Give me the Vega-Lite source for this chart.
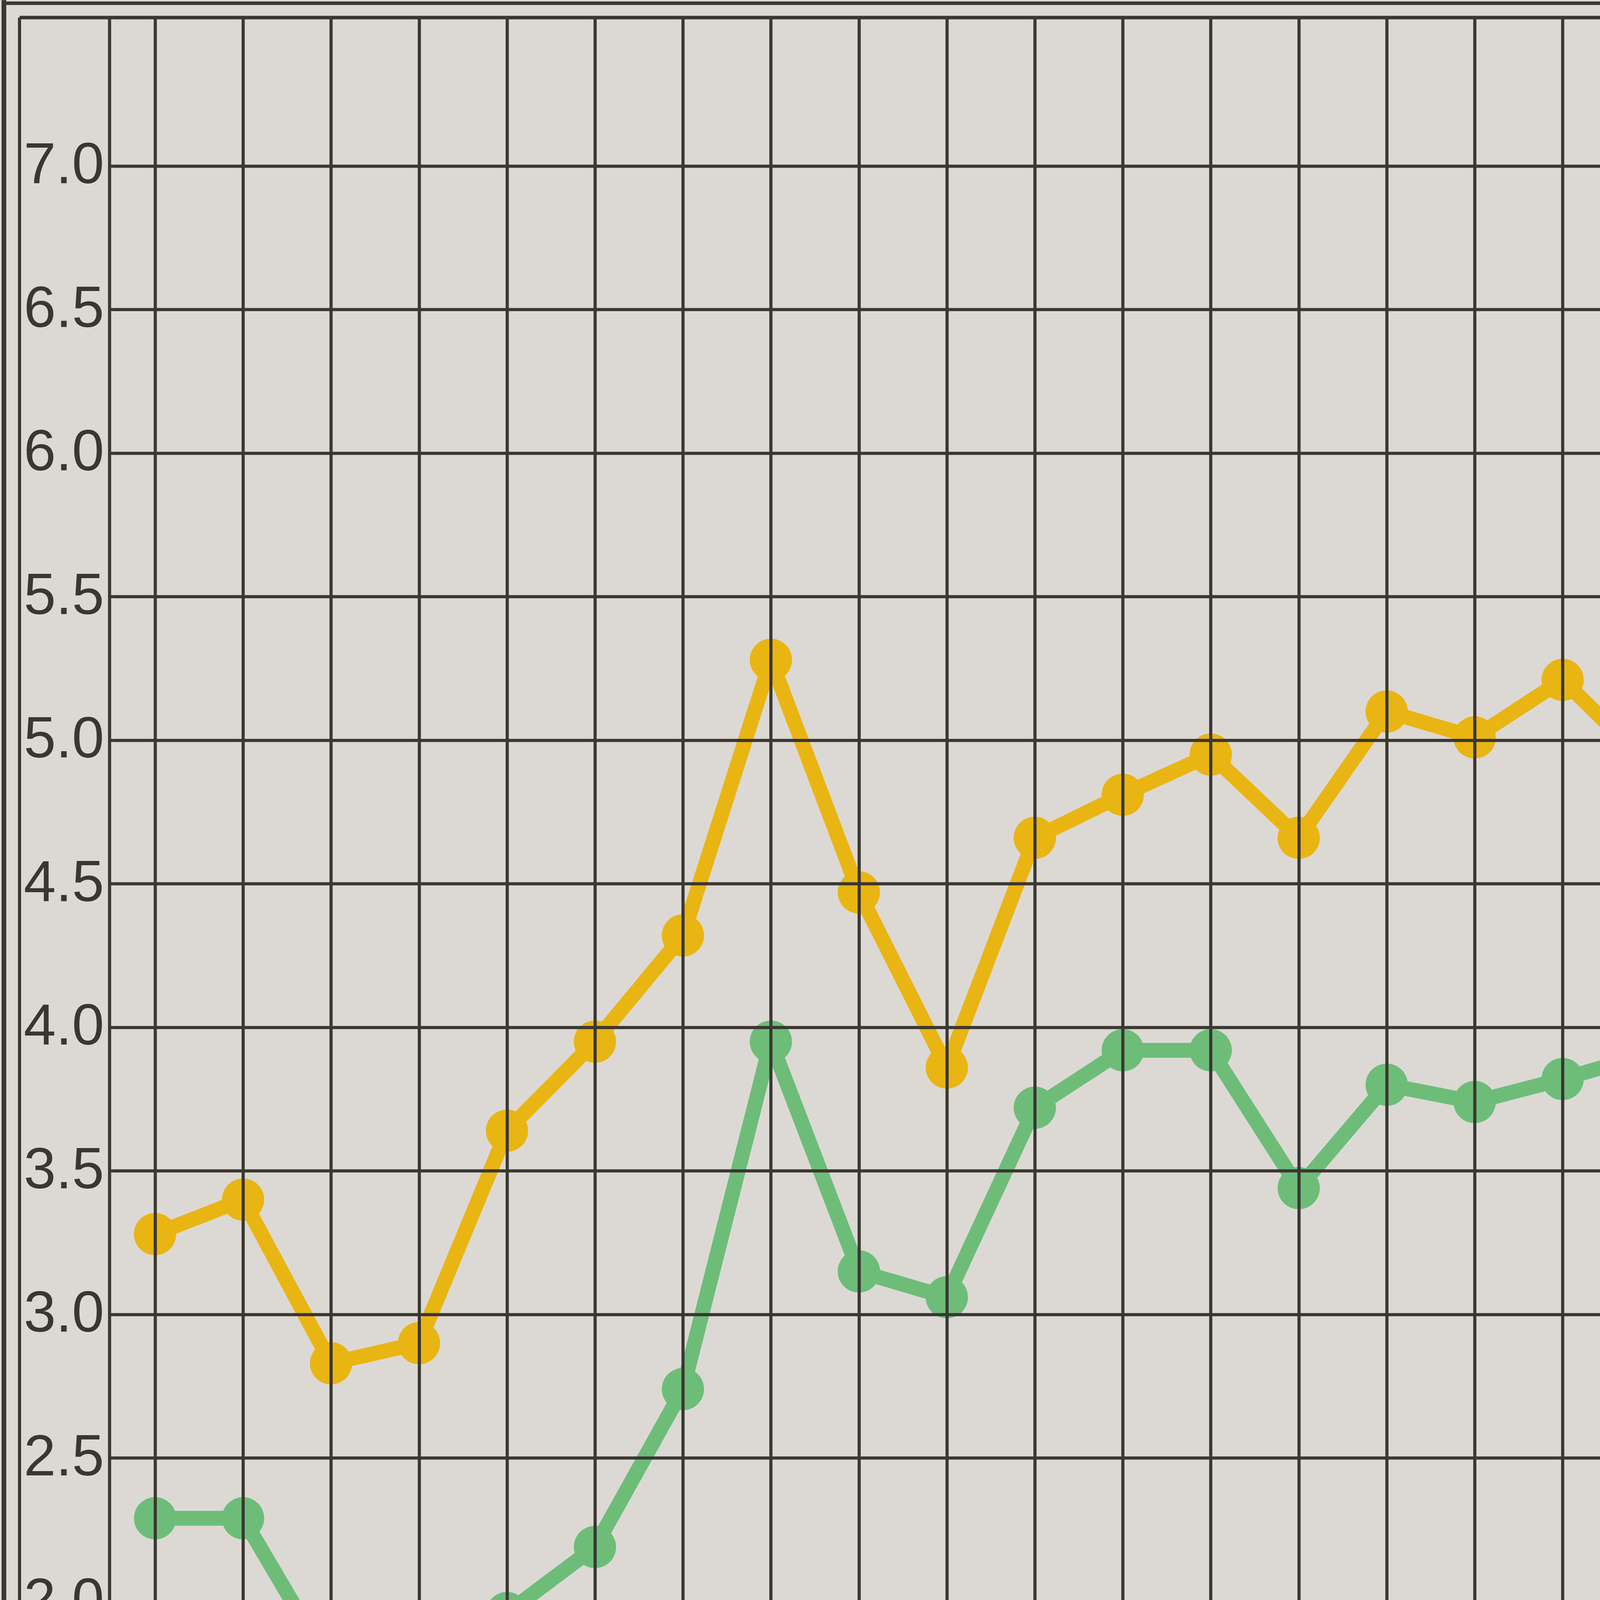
{
  "$schema": "https://vega.github.io/schema/vega-lite/v6.json",
  "autosize": "none",
  "width": 4309,
  "height": 5482,
  "padding": {"left": 280, "top": 45, "right": 0, "bottom": 0},
  "background": "#dcd9d4",
  "config": {"view": {"stroke": null}},
  "datasets": {
    "series": [
      {"t": 1, "series": "黄", "value": 3.28}, {"t": 2, "series": "黄", "value": 3.40}, {"t": 3, "series": "黄", "value": 2.83}, {"t": 4, "series": "黄", "value": 2.90}, {"t": 5, "series": "黄", "value": 3.64}, {"t": 6, "series": "黄", "value": 3.95}, {"t": 7, "series": "黄", "value": 4.32}, {"t": 8, "series": "黄", "value": 5.28}, {"t": 9, "series": "黄", "value": 4.47}, {"t": 10, "series": "黄", "value": 3.86}, {"t": 11, "series": "黄", "value": 4.66}, {"t": 12, "series": "黄", "value": 4.81}, {"t": 13, "series": "黄", "value": 4.95}, {"t": 14, "series": "黄", "value": 4.66}, {"t": 15, "series": "黄", "value": 5.10}, {"t": 16, "series": "黄", "value": 5.01}, {"t": 17, "series": "黄", "value": 5.21}, {"t": 18, "series": "黄", "value": 4.91}, {"t": 19, "series": "黄", "value": 4.24},
      {"t": 1, "series": "緑", "value": 2.29}, {"t": 2, "series": "緑", "value": 2.29}, {"t": 3, "series": "緑", "value": 1.77}, {"t": 4, "series": "緑", "value": 1.56}, {"t": 5, "series": "緑", "value": 1.96}, {"t": 6, "series": "緑", "value": 2.19}, {"t": 7, "series": "緑", "value": 2.74}, {"t": 8, "series": "緑", "value": 3.95}, {"t": 9, "series": "緑", "value": 3.15}, {"t": 10, "series": "緑", "value": 3.06}, {"t": 11, "series": "緑", "value": 3.72}, {"t": 12, "series": "緑", "value": 3.92}, {"t": 13, "series": "緑", "value": 3.92}, {"t": 14, "series": "緑", "value": 3.44}, {"t": 15, "series": "緑", "value": 3.80}, {"t": 16, "series": "緑", "value": 3.74}, {"t": 17, "series": "緑", "value": 3.82}, {"t": 18, "series": "緑", "value": 3.91}, {"t": 19, "series": "緑", "value": 3.26},
      {"t": 1, "series": "赤", "value": 0.99}, {"t": 2, "series": "赤", "value": 1.10}, {"t": 3, "series": "赤", "value": 1.08}, {"t": 4, "series": "赤", "value": 1.35}, {"t": 5, "series": "赤", "value": 1.71}, {"t": 6, "series": "赤", "value": 1.76}, {"t": 7, "series": "赤", "value": 1.58}, {"t": 8, "series": "赤", "value": 1.32}, {"t": 9, "series": "赤", "value": 1.33}, {"t": 10, "series": "赤", "value": 0.80}, {"t": 11, "series": "赤", "value": 0.91}, {"t": 12, "series": "赤", "value": 0.86}, {"t": 13, "series": "赤", "value": 0.98}, {"t": 14, "series": "赤", "value": 1.23}, {"t": 15, "series": "赤", "value": 1.28}, {"t": 16, "series": "赤", "value": 1.26}, {"t": 17, "series": "赤", "value": 1.36}, {"t": 18, "series": "赤", "value": 1.01}, {"t": 19, "series": "赤", "value": 0.96}
    ],
    "one": [{}]
  },
  "layer": [
    {
      "data": {"name": "one"},
      "mark": {"type": "rule", "color": "#3a3631", "strokeWidth": 12},
      "encoding": {
        "x": {"datum": -0.7184, "type": "quantitative", "scale": {"domain": [0.4805, 19.614], "nice": false, "zero": false}, "axis": {"grid": true, "values": [1, 2, 3, 4, 5, 6, 7, 8, 9, 10, 11, 12, 13, 14, 15, 16, 17, 18, 19], "gridColor": "#3a3631", "gridWidth": 8, "gridOpacity": 1, "labels": false, "ticks": false, "domain": false, "title": null, "zindex": 1}},
        "y": {"datum": 7.578, "type": "quantitative", "scale": {"domain": [0.0585, 7.517], "nice": false, "zero": false}, "axis": {"grid": true, "values": [0.5, 1, 1.5, 2, 2.5, 3, 3.5, 4, 4.5, 5, 5.5, 6, 6.5, 7], "format": ".1f", "gridColor": "#3a3631", "gridWidth": 8, "gridOpacity": 1, "ticks": false, "domain": true, "domainColor": "#3a3631", "domainWidth": 8, "labelFont": "Liberation Sans", "labelFontSize": 148, "labelLimit": 0, "labelColor": "#3a3631", "labelPadding": 14, "labelBaseline": "middle", "title": null, "zindex": 1}},
        "y2": {"datum": 0}
      }
    },
    {
      "data": {"name": "one"},
      "mark": {"type": "rule", "color": "#3a3631", "strokeWidth": 8},
      "encoding": {
        "x": {"datum": -0.5408},
        "y": {"datum": 7.517},
        "y2": {"datum": 0}
      }
    },
    {
      "data": {"name": "one"},
      "mark": {"type": "rule", "color": "#3a3631", "strokeWidth": 9},
      "encoding": {
        "y": {"datum": 7.517},
        "x": {"datum": -0.5408},
        "x2": {"datum": 19.614}
      }
    },
    {
      "data": {"name": "one"},
      "mark": {"type": "rule", "color": "#3a3631", "strokeWidth": 9},
      "encoding": {
        "y": {"datum": 7.567},
        "x": {"datum": -0.7184},
        "x2": {"datum": 19.614}
      }
    },
    {
      "data": {"name": "one"},
      "mark": {"type": "text", "text": ["百", "万", "噸"], "font": "Noto Sans CJK JP", "fontSize": 96, "lineHeight": 88, "align": "center", "baseline": "top", "color": "#3a3631"},
      "encoding": {
        "x": {"datum": -0.141},
        "y": {"datum": 0.4354}
      }
    },
    {
      "data": {"name": "series"},
      "mark": {"type": "line", "strokeWidth": 38, "strokeJoin": "round", "point": {"filled": true, "size": 11700, "opacity": 1}},
      "encoding": {
        "x": {"field": "t", "type": "quantitative"},
        "y": {"field": "value", "type": "quantitative"},
        "color": {"field": "series", "type": "nominal", "scale": {"domain": ["黄", "緑", "赤"], "range": ["#e9b512", "#6dbd79", "#dc4428"]}, "legend": null}
      }
    }
  ]
}
